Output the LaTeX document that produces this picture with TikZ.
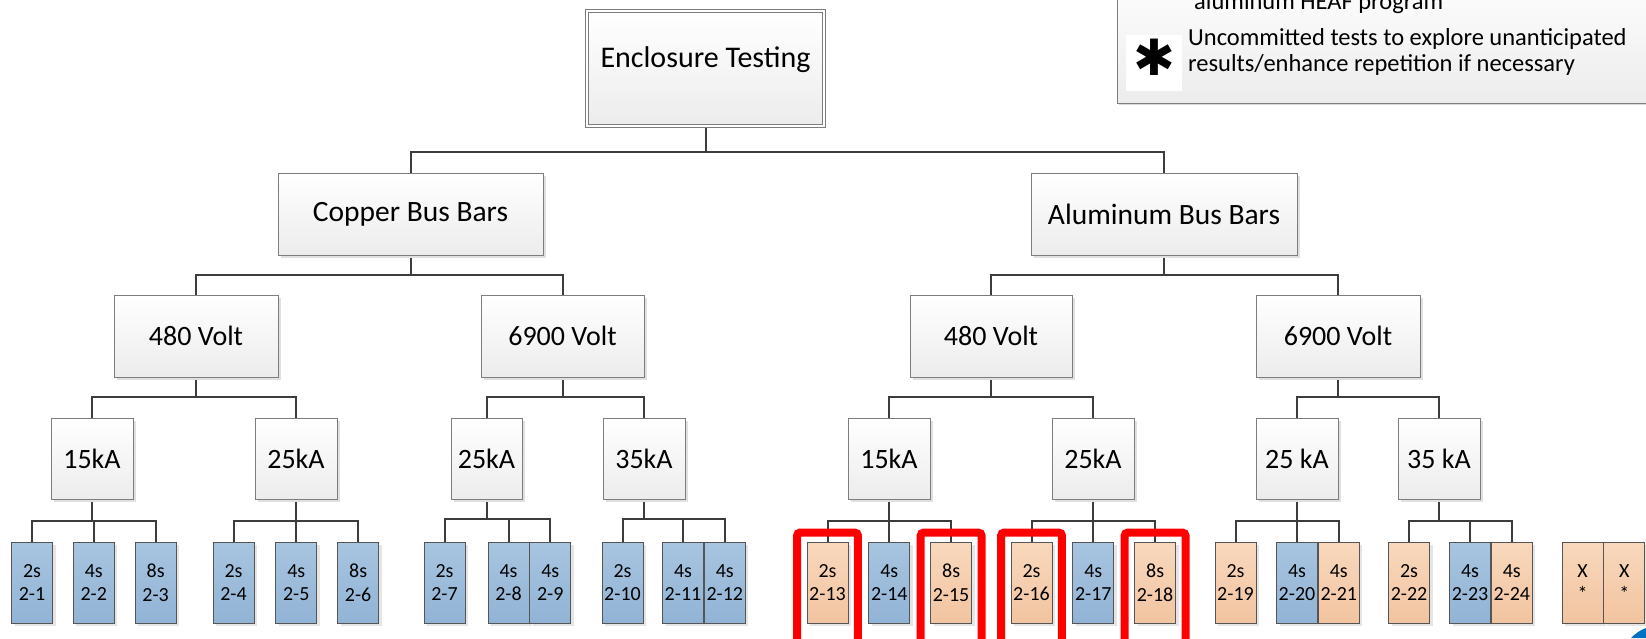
\documentclass[tikz,border=0pt]{standalone}
\usepackage{fontspec}
\setmainfont{Carlito}
\newfontfamily\symfont{DejaVu Sans}
\usetikzlibrary{positioning, shadows, backgrounds}

\definecolor{boxline}{RGB}{125,125,125}
\definecolor{leafline}{RGB}{85,85,85}
\definecolor{linkgray}{RGB}{60,60,60}
\definecolor{boxbot}{RGB}{236,236,236}
\definecolor{bluetop}{RGB}{168,197,224}
\definecolor{bluebot}{RGB}{145,179,213}
\definecolor{peachtop}{RGB}{248,216,189}
\definecolor{peachbot}{RGB}{242,196,160}
\definecolor{cornerblue}{RGB}{0,112,192}

\tikzstyle{topbox}    = [rectangle, draw=boxline, line width=0.8pt, double=white, double distance=2.4pt,
                         top color=white, bottom color=boxbot, minimum width=237pt, minimum height=115pt,
                         text height=20pt, text depth=22pt, font=\fontsize{30}{35}\selectfont]
\tikzstyle{branch}    = [rectangle, draw=boxline, line width=0.8pt, top color=white, bottom color=boxbot,
                         minimum height=82pt, inner sep=0pt, font=\fontsize{29.5}{34}\selectfont,
                         drop shadow={shadow xshift=3pt, shadow yshift=-3pt, fill=black!12, opacity=1}]
\tikzstyle{volt}      = [branch, font=\fontsize{28}{33}\selectfont]
\tikzstyle{current}   = [branch, minimum width=82pt, minimum height=81pt, font=\fontsize{28}{33}\selectfont]
\tikzstyle{leafblue}  = [rectangle, draw=leafline, line width=0.8pt, top color=bluetop, bottom color=bluebot,
                         minimum width=41pt, minimum height=81pt, inner sep=0pt, align=center,
                         font=\fontsize{20}{23.5}\selectfont,
                         drop shadow={shadow xshift=3pt, shadow yshift=-3pt, fill=black!10, opacity=1}]
\tikzstyle{leafpeach} = [leafblue, top color=peachtop, bottom color=peachbot]
\tikzstyle{link}      = [draw=linkgray, line width=2pt]
\tikzstyle{redframe}  = [draw=red, line width=8pt, rounded corners=3pt]
\tikzstyle{legendbox} = [rectangle, draw=boxline, line width=0.8pt, top color=white, bottom color=boxbot,
                         minimum width=563pt, minimum height=133pt,
                         drop shadow={shadow xshift=2pt, shadow yshift=-2pt, fill=black!15, opacity=1}]
\tikzstyle{legendtext}= [anchor=base west, inner sep=0pt, font=\fontsize{24.5}{28}\selectfont]

\begin{document}
\begin{tikzpicture}[x=1pt, y=-1pt]
  \useasboundingbox (0,0) rectangle (1646,638);
  \clip (0,0) rectangle (1646,638);

  % legend
  \node (legend) [legendbox] at (1398.5,36.5) {};
  \node (leg0) [legendtext] at (1194,9) {aluminum HEAF program};
  \node (starbg) [fill=white, minimum size=56pt, inner sep=0pt] at (1154,63) {};
  \node (star) [font=\fontsize{50}{50}\symfont\bfseries] at (1154,57) {✱};
  \node (leg1) [legendtext] at (1188,45) {Uncommitted tests to explore unanticipated};
  \node (leg2) [legendtext] at (1188,71) {results/enhance repetition if necessary};

  % tree
  \node (top)    [topbox] at (705.5,68.5) {Enclosure Testing};
  \node (cu)     [branch, minimum width=265pt] at (410.5,214) {Copper Bus Bars};
  \node (al)     [branch, minimum width=266pt] at (1164,214)  {Aluminum Bus Bars};

  \node (cu480)  [volt, minimum width=164pt] at (196,336)   {480 Volt};
  \node (cu6900) [volt, minimum width=163pt] at (562.5,336) {6900 Volt};
  \node (al480)  [volt, minimum width=162pt] at (991,336)   {480 Volt};
  \node (al6900) [volt, minimum width=164pt] at (1338,336)  {6900 Volt};

  \node (cu15)   [current] at (92,458.5)   {15kA};
  \node (cu25)   [current] at (296,458.5)  {25kA};
  \node (cu25b)  [current, minimum width=71pt] at (486.5,458.5) {25kA};
  \node (cu35)   [current] at (644,458.5)  {35kA};
  \node (al15)   [current] at (889,458.5)  {15kA};
  \node (al25)   [current] at (1093,458.5) {25kA};
  \node (al25b)  [current] at (1297,458.5) {25 kA};
  \node (al35)   [current] at (1439,458.5) {35 kA};

  \node (l1)  [leafblue] at (32,582.5)       {2s\\2-1};
  \node (l2)  [leafblue, right=20pt of l1]   {4s\\2-2};
  \node (l3)  [leafblue, right=20pt of l2]   {8s\\2-3};
  \node (l4)  [leafblue] at (233.5,582.5)    {2s\\2-4};
  \node (l5)  [leafblue, right=21pt of l4]   {4s\\2-5};
  \node (l6)  [leafblue, right=20pt of l5]   {8s\\2-6};
  \node (l7)  [leafblue] at (444.5,582.5)    {2s\\2-7};
  \node (l8)  [leafblue] at (508.5,582.5)    {4s\\2-8};
  \node (l9)  [leafblue, right=0pt of l8]    {4s\\2-9};
  \node (l10) [leafblue] at (622.5,582.5)    {2s\\2-10};
  \node (l11) [leafblue] at (683,582.5)      {4s\\2-11};
  \node (l12) [leafblue, right=0pt of l11]   {4s\\2-12};
  \node (l13) [leafpeach] at (827.5,582.5)   {2s\\2-13};
  \node (l14) [leafblue, right=20pt of l13]  {4s\\2-14};
  \node (l15) [leafpeach, right=20pt of l14] {8s\\2-15};
  \node (l16) [leafpeach] at (1031.5,582.5)  {2s\\2-16};
  \node (l17) [leafblue, right=20pt of l16]  {4s\\2-17};
  \node (l18) [leafpeach, right=20pt of l17] {8s\\2-18};
  \node (l19) [leafpeach] at (1235.5,582.5)  {2s\\2-19};
  \node (l20) [leafblue] at (1297,582.5)     {4s\\2-20};
  \node (l21) [leafpeach, right=0pt of l20]  {4s\\2-21};
  \node (l22) [leafpeach] at (1409,582.5)    {2s\\2-22};
  \node (l23) [leafblue] at (1470,582.5)     {4s\\2-23};
  \node (l24) [leafpeach, right=0pt of l23]  {4s\\2-24};
  \node (x1)  [leafpeach] at (1582.5,582.5)  {X\\*};
  \node (x2)  [leafpeach, right=0pt of x1]   {X\\*};

  \begin{scope}[on background layer]
    \draw [link] (top.south) -- +(0,26) -| (cu.north);
    \draw [link] (top.south) -- +(0,26) -| (al.north);

    \draw [link] (cu.south) -- +(0,20) -| (cu480.north);
    \draw [link] (cu.south) -- +(0,20) -| (cu6900.north);
    \draw [link] (al.south) -- +(0,20) -| (al480.north);
    \draw [link] (al.south) -- +(0,20) -| (al6900.north);

    \draw [link] (cu480.south)  -- +(0,20) -| (cu15.north);
    \draw [link] (cu480.south)  -- +(0,20) -| (cu25.north);
    \draw [link] (cu6900.south) -- +(0,20) -| (cu25b.north);
    \draw [link] (cu6900.south) -- +(0,20) -| (cu35.north);
    \draw [link] (al480.south)  -- +(0,20) -| (al15.north);
    \draw [link] (al480.south)  -- +(0,20) -| (al25.north);
    \draw [link] (al6900.south) -- +(0,20) -| (al25b.north);
    \draw [link] (al6900.south) -- +(0,20) -| (al35.north);

    \draw [link] (cu15.south)  -- +(0,22) -| (l1.north);
    \draw [link] (cu15.south)  -- +(0,22) -| (l2.north);
    \draw [link] (cu15.south)  -- +(0,22) -| (l3.north);
    \draw [link] (cu25.south)  -- +(0,22) -| (l4.north);
    \draw [link] (cu25.south)  -- +(0,22) -| (l5.north);
    \draw [link] (cu25.south)  -- +(0,22) -| (l6.north);
    \draw [link] (cu25b.south) -- +(0,20) -| (l7.north);
    \draw [link] (cu25b.south) -- +(0,20) -| (l8.north);
    \draw [link] (cu25b.south) -- +(0,20) -| (l9.north);
    \draw [link] (cu35.south)  -- +(0,20) -| (l10.north);
    \draw [link] (cu35.south)  -- +(0,20) -| (l11.north);
    \draw [link] (cu35.south)  -- +(0,20) -| (l12.north);
    \draw [link] (al15.south)  -- +(0,22) -| (l13.north);
    \draw [link] (al15.south)  -- +(0,22) -| (l14.north);
    \draw [link] (al15.south)  -- +(0,22) -| (l15.north);
    \draw [link] (al25.south)  -- +(0,22) -| (l16.north);
    \draw [link] (al25.south)  -- +(0,22) -| (l17.north);
    \draw [link] (al25.south)  -- +(0,22) -| (l18.north);
    \draw [link] (al25b.south) -- +(0,22) -| (l19.north);
    \draw [link] (al25b.south) -- +(0,22) -| (l20.north);
    \draw [link] (al25b.south) -- +(0,22) -| (l21.north);
    \draw [link] (al35.south)  -- +(0,22) -| (l22.north);
    \draw [link] (al35.south)  -- +(0,22) -| (l23.north);
    \draw [link] (al35.south)  -- +(0,22) -| (l24.north);
  \end{scope}

  % highlighted tests
  \draw [redframe] ([shift={(-9.5pt,9pt)}]l13.north west) rectangle ([shift={(9.5pt,-30pt)}]l13.south east);
  \draw [redframe] ([shift={(-9.5pt,9pt)}]l15.north west) rectangle ([shift={(9.5pt,-30pt)}]l15.south east);
  \draw [redframe] ([shift={(-9.5pt,9pt)}]l16.north west) rectangle ([shift={(9.5pt,-30pt)}]l16.south east);
  \draw [redframe] ([shift={(-9.5pt,9pt)}]l18.north west) rectangle ([shift={(9.5pt,-30pt)}]l18.south east);

  \fill [cornerblue] (1646,628) .. controls (1640,630) and (1635,634) .. (1631,638) -- (1646,638) -- cycle;
\end{tikzpicture}
\end{document}
